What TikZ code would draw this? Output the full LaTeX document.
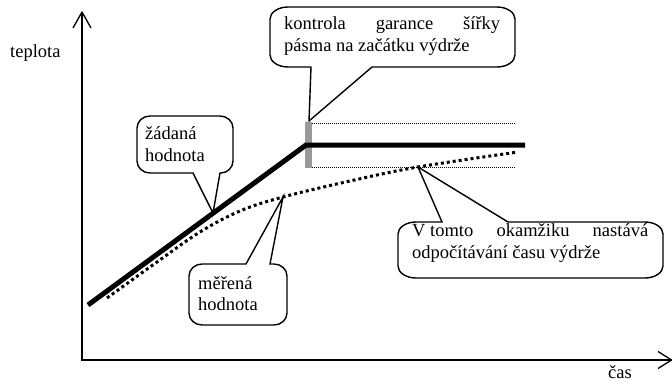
\documentclass[tikz,border=0pt]{standalone}
\usepackage{fontspec}
\setmainfont{Liberation Serif}
\begin{document}
\begin{tikzpicture}[x=1pt,y=-1pt,
  txt/.style={anchor=base west, inner sep=0pt, font=\fontsize{18.5}{21.5}\selectfont},
  bubble/.style={draw, line width=1.4pt, fill=white, line join=miter},
  axisline/.style={line width=1.3pt},
  arrowv/.style={line width=1.3pt, line join=round},
  setline/.style={line width=5pt},
  measline/.style={line width=3pt, dash pattern=on 3pt off 3pt},
  bandline/.style={line width=0.9pt, dash pattern=on 1pt off 1pt}]
\useasboundingbox (0,0) rectangle (672,383);

% named points
\coordinate (O) at (82,360);
\coordinate (ytip) at (82,12);
\coordinate (xtip) at (671.5,360);
\coordinate (S0) at (88,305);
\coordinate (S1) at (306,145);
\coordinate (S2) at (525,145);
\coordinate (tipA) at (309,121);
\coordinate (tipB) at (213,213);
\coordinate (tipC) at (283,197);
\coordinate (tipD) at (418,167);

% axes
\draw[axisline] (ytip) -- (O) -- (xtip);
\draw[arrowv] (73,28) -- (ytip) -- (91,28);
\draw[arrowv] (658,351.5) -- (xtip) -- (658,368.5);
\node[txt] (ylab) at (10,57) {teplota};
\node[txt] (xlab) at (608,378) {čas};

% callout bubbles
\draw[bubble] (288,7) -- (497,7) .. controls (506.9,7) and (515,12.4) .. (515,19)
  -- (515,55) .. controls (515,61.6) and (506.9,67) .. (497,67)
  -- (372,67) -- (tipA) -- (311,67)
  -- (288,67) .. controls (278.1,67) and (270,61.6) .. (270,55)
  -- (270,19) .. controls (270,12.4) and (278.1,7) .. (288,7) -- cycle;

\draw[bubble] (150,116) -- (220,116) .. controls (227.2,116) and (233,121.4) .. (233,128)
  -- (233,161) .. controls (233,167.6) and (227.2,173) .. (221,173)
  -- (220,173) -- (tipB) -- (193,173)
  -- (150,173) .. controls (142.8,173) and (137,167.6) .. (137,161)
  -- (137,128) .. controls (137,121.4) and (142.8,116) .. (150,116) -- cycle;

\draw[bubble] (202,264) -- (246,264) -- (tipC) -- (270,264)
  -- (274,264) .. controls (281.2,264) and (287,269.4) .. (287,276)
  -- (287,313) .. controls (287,319.6) and (281.2,325) .. (274,325)
  -- (202,325) .. controls (194.8,325) and (189,319.6) .. (189,313)
  -- (189,276) .. controls (189,269.4) and (194.8,264) .. (202,264) -- cycle;

\draw[bubble] (416,222) -- (442,222) -- (tipD) -- (508,222)
  -- (645,222) .. controls (654.9,222) and (663,227.4) .. (663,234)
  -- (663,266) .. controls (663,272.6) and (654.9,278) .. (645,278)
  -- (416,278) .. controls (406.1,278) and (398,272.6) .. (398,266)
  -- (398,234) .. controls (398,227.4) and (406.1,222) .. (416,222) -- cycle;

% texts in bubbles
\node[txt] (a1) at (284,29.5) {\hbox to 216pt{kontrola\hfill garance\hfill šířky}};
\node[txt] (a2) at (284,51) {pásma na začátku výdrže};
\node[txt] (b1) at (145,139.5) {žádaná};
\node[txt] (b2) at (145,161) {hodnota};
\node[txt] (c1) at (198,289.5) {měřená};
\node[txt] (c2) at (198,310.5) {hodnota};
\node[txt] (d1) at (412,236.5) {\hbox to 236pt{V tomto\hfill okamžiku\hfill nastává}};
\node[txt] (d2) at (412,258) {odpočítávání času výdrže};

% band
\fill[black!40] (305,122) rectangle (312,168);
\draw[bandline] (312,123) -- (515,123);
\draw[bandline] (312,167.5) -- (515,167.5);

% set value
\draw[setline] (S0) -- (S1) -- (S2);

% measured value
\draw[measline] plot[smooth, tension=0.6] coordinates
  {(107,298) (157,262) (200,232) (240,211) (tipC) (350,181) (tipD) (518,152)};
\end{tikzpicture}
\end{document}
